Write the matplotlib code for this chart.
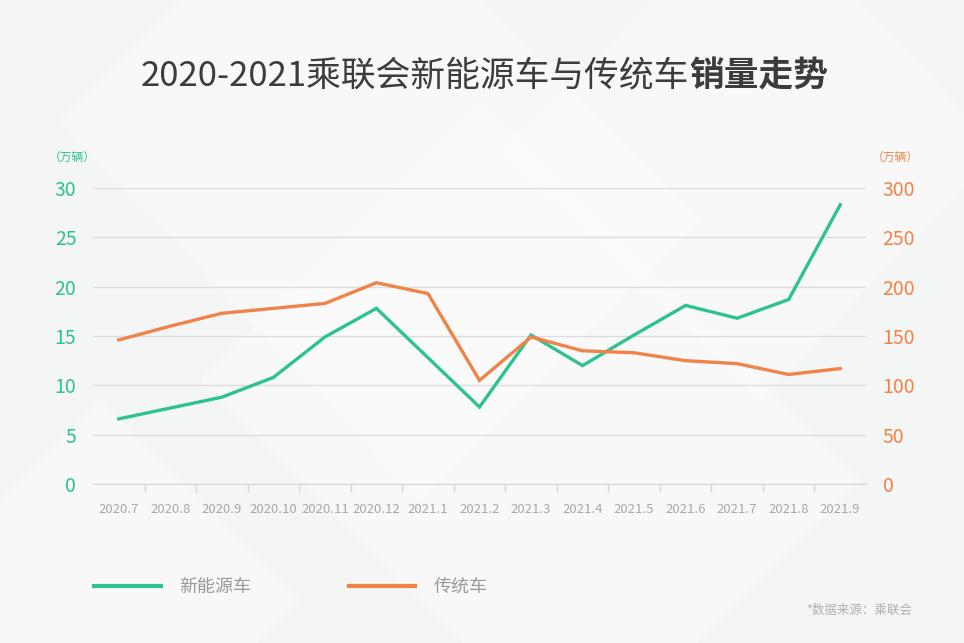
import matplotlib.pyplot as plt
from matplotlib.patches import Polygon
from matplotlib import font_manager
import numpy as np

plt.rcParams['font.family'] = ['Noto Sans CJK SC', 'DejaVu Sans']

months = ['2020.7', '2020.8', '2020.9', '2020.10', '2020.11', '2020.12',
          '2021.1', '2021.2', '2021.3', '2021.4', '2021.5', '2021.6',
          '2021.7', '2021.8', '2021.9']
# 万辆
nev_sales = [6.6, 7.7, 8.8, 10.8, 14.9, 17.8, 12.8, 7.8, 15.1, 12.0,
             15.1, 18.1, 16.8, 18.7, 28.3]
ice_sales = [146, 160, 173, 178, 183, 204, 193, 105, 149, 135,
             133, 125, 122, 111, 117]

green = '#2ec28f'
orange = '#f08348'
grey_text = '#a8a8a8'

# see which light weights exist
print(sorted({(f.name, f.weight) for f in font_manager.fontManager.ttflist
              if 'Noto Sans CJK SC' in f.name or f.name in ('Lato', 'Open Sans', 'Roboto')}))

fig = plt.figure(figsize=(9.64, 6.43), dpi=100, facecolor='#f4f5f5')

# light background shapes
bg = fig.add_axes([0, 0, 1, 1], zorder=-10)
bg.set_xlim(0, 964)
bg.set_ylim(643, 0)
bg.axis('off')
shapes = [
    [(60, 120), (330, -150), (700, 220), (420, 500)],
    [(200, 380), (480, 100), (860, 480), (580, 760)],
    [(500, 150), (760, -100), (1000, 150), (760, 400)],
    [(-100, 600), (100, 400), (300, 600), (100, 800)],
]
for pts in shapes:
    bg.add_patch(Polygon(pts, closed=True, facecolor='white', alpha=0.4,
                         edgecolor='none'))

ax = fig.add_axes([93 / 964, 1 - 484 / 643, (866 - 93) / 964, (484 - 188) / 643])
ax.set_facecolor('none')
x = np.arange(len(months))
ax.plot(x, nev_sales, color=green, lw=2.4, label='新能源车', solid_joinstyle='miter')
ax.set_xlim(-0.5, len(months) - 0.5)
ax.set_ylim(0, 30)
ax.set_yticks(range(0, 31, 5))
ax.set_xticks(x)
ax.set_xticklabels(months, fontweight='light')
ax.set_xticks(np.arange(0.5, len(months) - 1, 1), minor=True)
ax.tick_params(axis='x', which='major', length=0, pad=14, labelsize=9.5,
               labelcolor=grey_text)
ax.tick_params(axis='x', which='minor', length=6, color='#d5d5d5', width=1)
ax.tick_params(axis='y', length=0, pad=12, labelsize=14, labelcolor=green)
ax.grid(axis='y', color='#dcdcdc', lw=1)
ax.set_axisbelow(True)
for s in ['top', 'left', 'right']:
    ax.spines[s].set_visible(False)
ax.spines['bottom'].set_color('#d5d5d5')

ax2 = ax.twinx()
ax2.plot(x, ice_sales, color=orange, lw=2.4, label='传统车', solid_joinstyle='miter')
ax2.set_ylim(0, 300)
ax2.set_yticks(range(0, 301, 50))
ax2.tick_params(axis='y', length=0, pad=12, labelsize=14, labelcolor=orange)
for s in ['top', 'left', 'right', 'bottom']:
    ax2.spines[s].set_visible(False)

fig.text(72 / 964, 1 - 157 / 643, '（万辆）', color=green, fontsize=8.5,
         ha='center', va='center')
fig.text(895 / 964, 1 - 157 / 643, '（万辆）', color=orange, fontsize=8.5,
         ha='center', va='center')

# title
fig.text(689 / 964, 1 - 76 / 643, '2020-2021乘联会新能源车与传统车', fontsize=25,
         fontweight='light', color='#3c3c3c', ha='right', va='center')
fig.text(689 / 964, 1 - 76 / 643, '销量走势', fontsize=25, fontweight='bold',
         color='#3c3c3c', ha='left', va='center')

handles = [ax.get_lines()[0], ax2.get_lines()[0]]
leg = fig.legend(handles=handles, labels=['新能源车', '传统车'], ncol=2,
                 loc='center left', bbox_to_anchor=(78 / 964, 1 - 587 / 643),
                 frameon=False, fontsize=13, handlelength=3.7,
                 handletextpad=1.0, columnspacing=5.4)
for t in leg.get_texts():
    t.set_color('#999999')
for h in leg.legend_handles:
    h.set_linewidth(3)

fig.text(912 / 964, 1 - 610 / 643, '*数据来源：乘联会', fontsize=9,
         color='#b0b0b0', ha='right', va='center')

fig.savefig('out.png', dpi=100, facecolor=fig.get_facecolor())
